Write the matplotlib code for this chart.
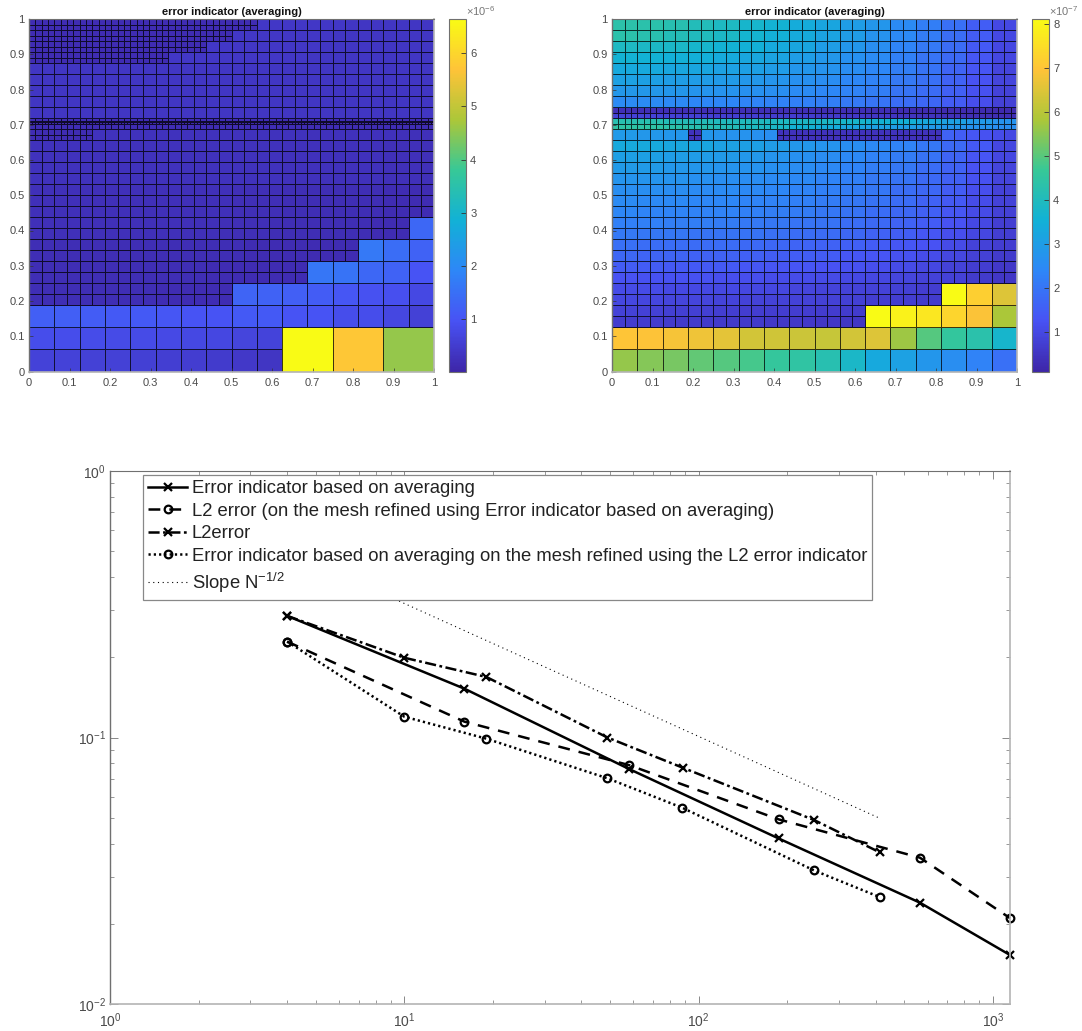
import numpy as np
import matplotlib
matplotlib.use("Agg")
import matplotlib.pyplot as plt
from matplotlib.colors import LinearSegmentedColormap, Normalize
from matplotlib.cm import ScalarMappable
from matplotlib.ticker import FixedLocator, NullFormatter, LogLocator

plt.rcParams['font.family'] = ['Liberation Sans', 'DejaVu Sans']
plt.rcParams['mathtext.default'] = 'regular'
plt.rcParams['lines.scale_dashes'] = False

W, H = 1082, 1031
PARULA = [(0.2422,0.1504,0.6603),(0.2810,0.3228,0.9579),(0.1786,0.5289,0.9682),(0.0689,0.6948,0.8394),
          (0.2161,0.7843,0.5923),(0.6720,0.7793,0.2227),(0.9970,0.7659,0.2199),(0.9769,0.9839,0.0805)]
cmap = LinearSegmentedColormap.from_list('parula', PARULA, N=256)

TITLE = 'error indicator (averaging)'

# ---------- left panel: cell values (units of 1e-6) ----------
L_CLIM = (0.02, 6.64)
L_ROW0 = [.62,.62,.6,.6,.58,.56,.52,.48,.42,.38]
L_ROW1 = [.85,.85,.83,.82,.8,.78,.75,.72,.68,.65]
L_BIG = [6.64,5.75,4.55]
L_ROW2 = [1.2,1.2,1.15,1.1,1.1,1.05,1.0,1.0,1.1,1.1,1.0,1.0,.85,.85,.72,.6]
L_ROW3 = [1.3,1.25,1.2,1.15,1.05,.95,.9,.75]
L_ROW4 = [1.6,1.55,1.35,1.25,1.0]
L_ROW5 = [1.65,1.45,1.25]
L_ROW6 = [1.35]
L_DARK_LOW = [.2,.2,.19,.19,.18,.17,.16,.15]
L_DARK_MID = [.24,.24,.23,.23,.22,.2,.19,.17]
L_MID = [.3,.3,.29,.29,.28,.27,.26,.23]
L_UPPER = [.36,.36,.36,.36,.36,.37,.37,.36]
L_FINE = [.15]
L_BAND = [.06]
L_TOP_R = [.4,.4,.38,.36]

# (values, y0, y1, x0, x1, dx, dy)
L_MESH = [
 (L_ROW0, 0, 1/16, 0, 5/8, 1/16, 1/16),
 (L_ROW1, 1/16, 1/8, 0, 5/8, 1/16, 1/16),
 (L_BIG, 0, 1/8, 5/8, 1, 1/8, 1/8),
 (L_ROW2, 1/8, 3/16, 0, 1, 1/16, 1/16),
 (L_ROW3, 3/16, 1/4, 1/2, 1, 1/16, 1/16),
 (L_ROW4, 1/4, 5/16, 11/16, 1, 1/16, 1/16),
 (L_ROW5, 5/16, 3/8, 13/16, 1, 1/16, 1/16),
 (L_ROW6, 3/8, 7/16, 15/16, 1, 1/16, 1/16),
 (L_DARK_LOW, 3/16, 1/4, 0, 1/2, 1/32, 1/32),
 (L_DARK_LOW, 1/4, 5/16, 0, 11/16, 1/32, 1/32),
 (L_DARK_LOW, 5/16, 3/8, 0, 13/16, 1/32, 1/32),
 (L_DARK_MID, 3/8, 7/16, 0, 15/16, 1/32, 1/32),
 (L_DARK_MID, 7/16, 17/32, 0, 1, 1/32, 1/32),
 (L_MID, 17/32, 21/32, 0, 1, 1/32, 1/32),
 (L_FINE, 21/32, 22/32, 0, 5/32, 1/64, 1/64),
 (L_MID, 21/32, 22/32, 5/32, 1, 1/32, 1/32),
 (L_FINE, 22/32, 23/32, 0, 1, 1/64, 1/64),
 (L_BAND, 180/256, 182/256, 0, 1, 1/128, 1/256),
 (L_UPPER, 23/32, 28/32, 0, 1, 1/32, 1/32),
 (L_FINE, 28/32, 29/32, 0, 11/32, 1/64, 1/64),
 (L_TOP_R, 28/32, 29/32, 11/32, 1, 1/32, 1/32),
 (L_FINE, 29/32, 30/32, 0, 14/32, 1/64, 1/64),
 (L_TOP_R, 29/32, 30/32, 14/32, 1, 1/32, 1/32),
 (L_FINE, 30/32, 31/32, 0, 16/32, 1/64, 1/64),
 (L_TOP_R, 30/32, 31/32, 16/32, 1, 1/32, 1/32),
 (L_FINE, 31/32, 1, 0, 18/32, 1/64, 1/64),
 (L_TOP_R, 31/32, 1, 18/32, 1, 1/32, 1/32),
]

# ---------- right panel: cell values (units of 1e-7) ----------
R_CLIM = (0.10, 8.11)
R_ROW0 = [5.6,5.45,5.3,5.1,4.95,4.8,4.6,4.45,4.2,3.8,3.3,3.1,2.8,2.6,2.3,1.9]
R_ROW1 = [7.0,6.95,6.85,6.75,6.6,6.35,6.3,6.25,6.2,6.35,6.5,5.7,4.95,4.55,4.3,3.7]
R_ROW2 = [8.1,7.9,7.7,7.3,6.9,5.8]
R_ROW3 = [8.1,7.2,6.5]
R_125 = [.68,.68,.65,.65,.62,.62,.6,.58,.55,.52]
R_156 = [.82,.8,.78,.78,.75,.72,.7,.7,.68,.65]
R_188 = [.95,.92,.9,.9,.88,.85,.85,.82,.8,.78,.72,.7,.65]
R_219 = [1.05,1.05,1.0,1.0,.98,.95,.95,.9,.88,.85,.82,.78,.72]
R_250 = [1.25,1.2,1.2,1.2,1.15,1.15,1.1,1.1,1.05,1.0,.95,.9,.85,.8,.65,.55]
R_281 = [1.45,1.45,1.4,1.4,1.4,1.35,1.3,1.3,1.25,1.2,1.15,1.05,.95,.85,.7,.6]
R_312 = [1.7,1.65,1.65,1.6,1.6,1.55,1.5,1.5,1.45,1.35,1.3,1.2,1.1,.95,.8,.65]
R_344 = [1.9,1.85,1.85,1.8,1.8,1.75,1.7,1.65,1.6,1.55,1.45,1.35,1.25,1.05,.85,.7]
R_375 = [2.1,2.05,2.05,2.0,2.0,1.95,1.9,1.85,1.8,1.7,1.6,1.5,1.35,1.15,.95,.75]
R_406 = [2.25,2.25,2.2,2.2,2.15,2.1,2.05,2.0,1.95,1.85,1.75,1.6,1.45,1.25,1.0,.75]
R_438 = [2.4,2.35,2.35,2.3,2.3,2.25,2.2,2.15,2.05,1.95,1.85,1.7,1.55,1.35,1.05,.8]
R_469 = [2.5,2.45,2.45,2.4,2.4,2.35,2.3,2.25,2.15,2.05,1.95,1.8,1.6,1.4,1.1,.85]
R_500 = [2.6,2.6,2.55,2.5,2.5,2.45,2.4,2.35,2.25,2.15,2.05,1.85,1.7,1.45,1.15,.85]
R_531 = [2.75,2.75,2.7,2.65,2.6,2.55,2.5,2.45,2.35,2.25,2.1,1.95,1.75,1.55,1.2,.9]
R_562 = [2.9,2.9,2.85,2.8,2.75,2.7,2.65,2.55,2.45,2.35,2.2,2.05,1.85,1.6,1.25,.9]
R_594 = [3.05,3.05,3.0,2.95,2.9,2.85,2.75,2.65,2.55,2.45,2.3,2.15,1.95,1.65,1.3,.95]
R_625 = [3.3,3.3,3.25,3.2,3.1,3.05,2.95,2.85,2.75,2.6,2.45,2.3,2.05,1.75,1.4,.95]
R_656_A = [2.9,2.9,2.85,2.85,2.8,2.8]
R_656_B = [2.8,2.75,2.7,2.7,2.65,2.6]
R_656_C = [1.6,1.5,1.35,1.2,1.1,1.0]
R_DARK = [.42]
R_688 = [4.4,4.4,4.3,4.2,4.1,3.9,3.8,3.6,3.4,3.2,3.1,3.0,2.9,2.8,2.7,2.6]
R_703 = [4.2,4.2,4.1,4.05,4.0,3.95,3.9,3.85,3.8,3.7,3.6,3.5,3.3,3.1,2.9,2.7]
R_719 = [.85,.85,.8,.8,.75,.75,.7,.7,.65,.6,.55,.5,.45,.4,.35,.3]
R_734 = [.35,.35,.35,.35,.33,.33,.33,.32,.3,.3,.3,.28,.28,.25,.25,.2]
R_750 = [2.5,2.5,2.45,2.4,2.4,2.35,2.3,2.25,2.2,2.1,2.0,1.85,1.7,1.45,1.15,.8]
R_781 = [2.85,2.85,2.8,2.75,2.7,2.65,2.6,2.5,2.4,2.3,2.2,2.0,1.8,1.55,1.2,.85]
R_812 = [3.1,3.05,3.0,2.95,2.9,2.85,2.75,2.65,2.55,2.4,2.3,2.1,1.9,1.6,1.25,.9]
R_844 = [3.3,3.3,3.25,3.2,3.1,3.05,2.95,2.8,2.7,2.55,2.4,2.2,1.95,1.65,1.3,.9]
R_875 = [3.6,3.55,3.5,3.45,3.35,3.25,3.15,3.0,2.85,2.65,2.5,2.25,2.0,1.75,1.35,.95]
R_906 = [3.9,3.85,3.8,3.7,3.6,3.5,3.35,3.2,3.0,2.8,2.6,2.35,2.1,1.8,1.4,.95]
R_938 = [4.3,4.25,4.1,4.0,3.85,3.65,3.5,3.35,3.15,2.95,2.7,2.45,2.15,1.85,1.45,1.0]
R_969 = [4.35,4.3,4.2,4.05,3.9,3.7,3.6,3.4,3.2,3.0,2.8,2.5,2.2,1.9,1.5,1.0]

R_STACK = [R_250,R_281,R_312,R_344,R_375,R_406,R_438,R_469,R_500,R_531,R_562,R_594,R_625]
R_STACK2 = [R_750,R_781,R_812,R_844,R_875,R_906,R_938,R_969]

R_MESH = [
 (R_ROW0, 0, 1/16, 0, 1, 1/16, 1/16),
 (R_ROW1, 1/16, 1/8, 0, 1, 1/16, 1/16),
 (R_ROW2, 1/8, 3/16, 5/8, 1, 1/16, 1/16),
 (R_ROW3, 3/16, 1/4, 13/16, 1, 1/16, 1/16),
 (R_125, 4/32, 5/32, 0, 5/8, 1/32, 1/32),
 (R_156, 5/32, 6/32, 0, 5/8, 1/32, 1/32),
 (R_188, 6/32, 7/32, 0, 13/16, 1/32, 1/32),
 (R_219, 7/32, 8/32, 0, 13/16, 1/32, 1/32),
]
for k, row in enumerate(R_STACK):
    R_MESH.append((row, (8+k)/32, (9+k)/32, 0, 1, 1/32, 1/32))
R_MESH += [
 (R_656_A, 21/32, 22/32, 0, 6/32, 1/32, 1/32),
 (R_DARK, 21/32, 22/32, 6/32, 7/32, 1/64, 1/64),
 (R_656_B, 21/32, 22/32, 7/32, 13/32, 1/32, 1/32),
 (R_DARK, 21/32, 22/32, 13/32, 26/32, 1/64, 1/64),
 (R_656_C, 21/32, 22/32, 26/32, 1, 1/32, 1/32),
 (R_688, 44/64, 45/64, 0, 1, 1/64, 1/64),
 (R_703, 45/64, 46/64, 0, 1, 1/64, 1/64),
 (R_719, 46/64, 47/64, 0, 1, 1/64, 1/64),
 (R_734, 47/64, 48/64, 0, 1, 1/64, 1/64),
]
for k, row in enumerate(R_STACK2):
    R_MESH.append((row, (24+k)/32, (25+k)/32, 0, 1, 1/32, 1/32))

# ---------- bottom panel: convergence curves ----------
N_SOLID = [4, 16, 58, 187, 565, 1143]
E_SOLID = [.286, .1525, .0762, .0418, .0240, .01527]
N_DASH = [4, 16, 58, 187, 565, 1143]
E_DASH = [.229, .1147, .0788, .0493, .0354, .0210]
N_DASHDOT = [4, 10, 19, 49, 88.4, 247, 412]
E_DASHDOT = [.286, .1992, .1687, .100, .0770, .0490, .0371]
N_DOT = [4, 10, 19, 49, 88, 247, 412]
E_DOT = [.229, .1197, .099, .0703, .0545, .0317, .0252]
N_SLOPE = [4, 412]
E_SLOPE = [.503, .0498]
LABELS = ['Error indicator based on averaging',
          'L2 error (on the mesh refined using Error indicator based on averaging)',
          'L2error',
          'Error indicator based on averaging on the mesh refined using the L2 error indicator',
          'Slope N$^{-1/2}$']

TXT = '#4a4a4a'
fig = plt.figure(figsize=(W/100, H/100), dpi=100)

def rect(l, t, r, b):
    return [l/W, 1-b/H, (r-l)/W, (b-t)/H]

def style_spines(ax):
    for s, c, lw in (('left','#707070',1.0),('top','#707070',.8),('right','#b4b4b4',1.2),('bottom','#b4b4b4',1.2)):
        ax.spines[s].set_color(c)
        ax.spines[s].set_linewidth(lw)

def draw_mesh(ax, mesh, norm):
    for vals, y0, y1, x0, x1, dx, dy in mesh:
        nx = int(round((x1-x0)/dx)); ny = int(round((y1-y0)/dy))
        xe = np.linspace(x0, x1, nx+1); ye = np.linspace(y0, y1, ny+1)
        idx = (np.arange(nx)*len(vals)/nx).astype(int)
        C = np.tile(np.array(vals, float)[idx], (ny, 1))
        ax.pcolormesh(xe, ye, C, cmap=cmap, norm=norm, edgecolors=(0,0,0,.75), linewidth=.42)

def panel(pos, cpos, mesh, clim, cticks, exp):
    ax = fig.add_axes(rect(*pos))
    norm = Normalize(*clim)
    draw_mesh(ax, mesh, norm)
    ax.set_xlim(0, 1); ax.set_ylim(0, 1)
    tk = np.round(np.arange(0, 1.01, .1), 1)
    lab = ['0'] + [f'{t:.1f}' for t in tk[1:-1]] + ['1']
    ax.set_xticks(tk, lab); ax.set_yticks(tk, lab)
    ax.tick_params(direction='in', length=3, width=.5, labelsize=8, colors='#333333', labelcolor=TXT, pad=3)
    ax.tick_params(axis='x', pad=4.5)
    ax.set_title(TITLE, fontsize=8, fontweight='bold', pad=3, color='#111111')
    style_spines(ax)
    cax = fig.add_axes(rect(*cpos))
    cb = fig.colorbar(ScalarMappable(norm=norm, cmap=cmap), cax=cax)
    cb.set_ticks(cticks, labels=[str(t) for t in cticks])
    cax.tick_params(direction='in', length=3.5, width=.6, labelsize=8, colors='#333333', labelcolor=TXT, pad=3)
    cb.outline.set_edgecolor('#707070'); cb.outline.set_linewidth(.8)
    cax.text(1.0, 1.002, rf'$\times$10$^{{{exp}}}$', transform=cax.transAxes, fontsize=8, color='#777777', ha='left', va='bottom')

panel((29, 19, 434, 371.5), (449, 19, 466, 371.5), L_MESH, L_CLIM, [1,2,3,4,5,6], -6)
panel((612, 19, 1017, 371.5), (1032, 19, 1049, 371.5), R_MESH, R_CLIM, [1,2,3,4,5,6,7,8], -7)

ax = fig.add_axes(rect(110, 471, 1010, 1004))
ax.set_xscale('log'); ax.set_yscale('log')
MS = 5.5; MEW = 1.6; LW = 1.8
DASH = (0, (8.5, 6.5)); DASHDOT = (0, (8, 2.5, 2, 2.5)); DOT = (0, (1.6, 2.2)); THIN = (0, (.8, 2.6))
ax.plot(N_SOLID, E_SOLID, color='k', lw=LW, marker='x', ms=MS, mew=MEW, clip_on=False, label=LABELS[0])
ax.plot(N_DASH, E_DASH, color='k', lw=LW, ls=DASH, marker='o', ms=MS, mew=MEW, mfc='none', clip_on=False, label=LABELS[1])
ax.plot(N_DASHDOT, E_DASHDOT, color='k', lw=LW, ls=DASHDOT, marker='x', ms=MS, mew=MEW, clip_on=False, label=LABELS[2])
ax.plot(N_DOT, E_DOT, color='k', lw=LW, ls=DOT, marker='o', ms=MS, mew=MEW, mfc='none', clip_on=False, label=LABELS[3])
ax.plot(N_SLOPE, E_SLOPE, color='k', lw=.8, ls=THIN, label=LABELS[4])
ax.set_xlim(1, 1143); ax.set_ylim(.01, 1)
ax.tick_params(which='major', direction='in', length=6, width=.7, top=True, right=True, color='#888888', labelcolor=TXT, labelsize=10, pad=5)
ax.tick_params(axis='y', which='major', pad=3)
ax.tick_params(which='minor', direction='in', length=3, width=.6, top=True, right=True, color='#888888')
ax.xaxis.set_major_locator(FixedLocator([1, 10, 100, 1000]))
ax.yaxis.set_major_locator(FixedLocator([.01, .1, 1]))
ax.xaxis.set_minor_locator(LogLocator(base=10, subs=np.arange(2, 10), numticks=12))
ax.yaxis.set_minor_locator(LogLocator(base=10, subs=np.arange(2, 10), numticks=12))
ax.xaxis.set_minor_formatter(NullFormatter()); ax.yaxis.set_minor_formatter(NullFormatter())
style_spines(ax)
leg = ax.legend(loc='upper left', bbox_to_anchor=(143/W, 1-475/H), bbox_transform=fig.transFigure,
                fontsize=13.35, frameon=True, fancybox=False, framealpha=1, edgecolor='#888888',
                borderaxespad=0, borderpad=.28, labelspacing=.3, handlelength=2.1, handletextpad=.25)
leg.get_frame().set_linewidth(.9)
for t in leg.get_texts():
    t.set_color('#222222')

fig.savefig('out.png', dpi=100)
